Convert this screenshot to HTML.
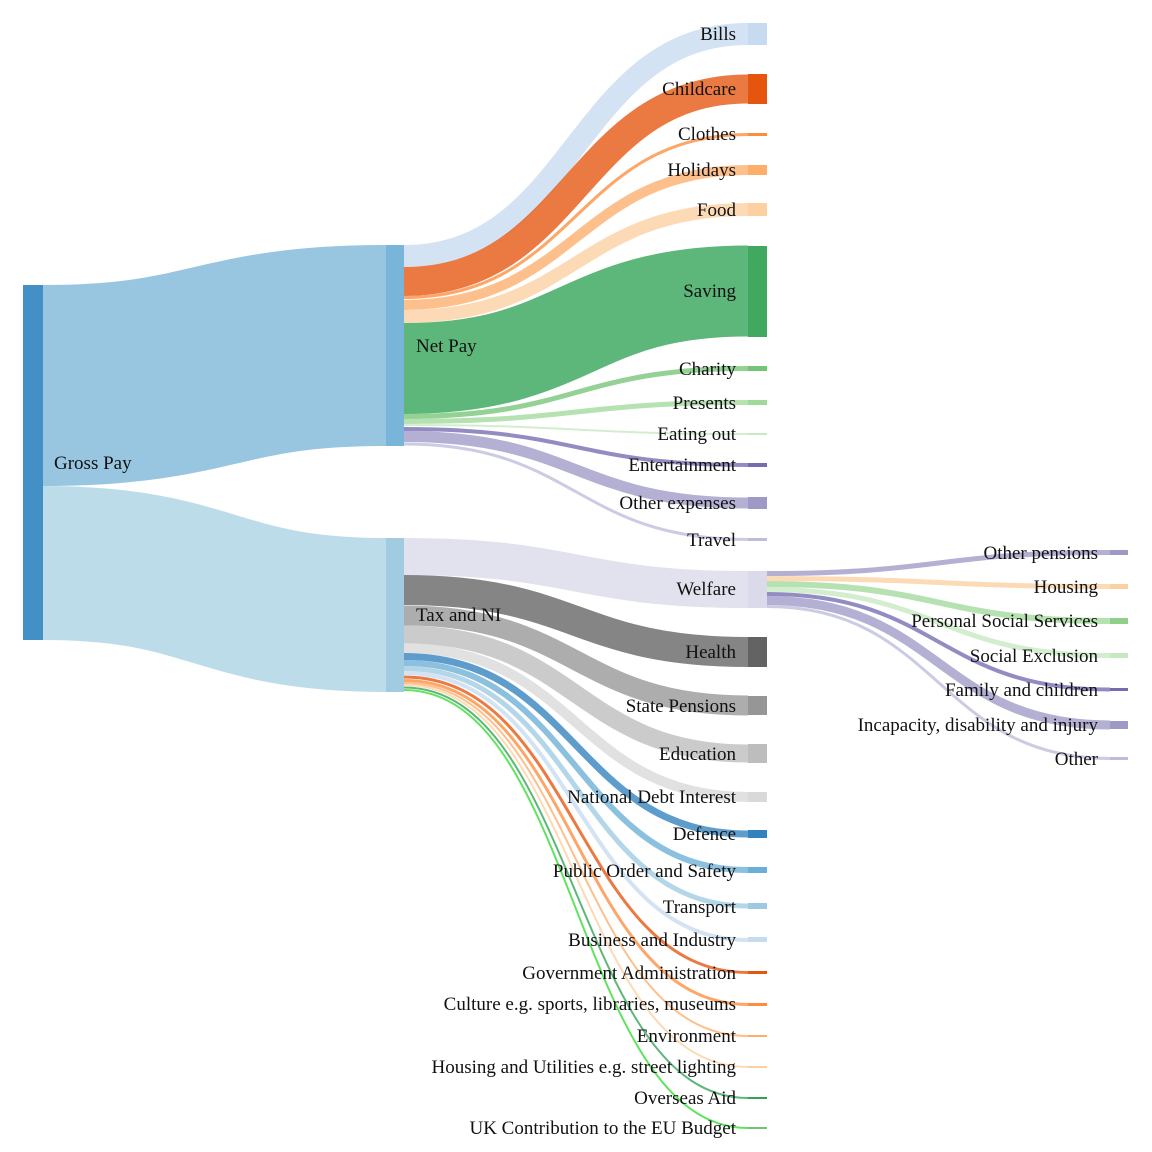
<!DOCTYPE html>
<html><head><meta charset="utf-8"><style>
html,body{margin:0;padding:0;background:#fff;}
svg{display:block;}
text{font-family:"Liberation Serif",serif;font-size:19px;fill:#111;}
.r{text-anchor:end;}
path{fill:none;stroke-opacity:0.78;}
</style></head><body>
<svg width="1152" height="1152" viewBox="0 0 1152 1152">
<g>
<path d="M43 385.5C214.5 385.5 214.5 345.5 386 345.5" stroke="#98c6e1" stroke-width="201" style="stroke-opacity:1"/>
<path d="M43 563C214.5 563 214.5 615 386 615" stroke="#bcdcea" stroke-width="154" style="stroke-opacity:1"/>

<path d="M404 256C576 256 576 34 748 34" stroke="#c6dbef" stroke-width="22"/>
<path d="M404 281.5C576 281.5 576 89 748 89" stroke="#e6550d" stroke-width="29"/>
<path d="M404 297.5C576 297.5 576 134.5 748 134.5" stroke="#fd8d3c" stroke-width="3"/>
<path d="M404 305C576 305 576 170 748 170" stroke="#fdae6b" stroke-width="10"/>
<path d="M404 316.5C576 316.5 576 209.5 748 209.5" stroke="#fdd0a2" stroke-width="13"/>
<path d="M404 368.5C576 368.5 576 291 748 291" stroke="#31a354" stroke-width="91"/>
<path d="M404 416.5C576 416.5 576 368.5 748 368.5" stroke="#74c476" stroke-width="5"/>
<path d="M404 421.5C576 421.5 576 402.5 748 402.5" stroke="#a1d99b" stroke-width="5"/>
<path d="M404 425C576 425 576 434 748 434" stroke="#c7e9c0" stroke-width="2"/>
<path d="M404 429C576 429 576 465 748 465" stroke="#756bb1" stroke-width="4"/>
<path d="M404 436.5C576 436.5 576 503 748 503" stroke="#9e9ac8" stroke-width="11"/>
<path d="M404 444C576 444 576 539.5 748 539.5" stroke="#bcbddc" stroke-width="3"/>

<path d="M404 556.5C576 556.5 576 589.5 748 589.5" stroke="#dadaeb" stroke-width="37"/>
<path d="M404 590C576 590 576 652 748 652" stroke="#636363" stroke-width="30"/>
<path d="M404 615.5C576 615.5 576 705.5 748 705.5" stroke="#969696" stroke-width="20"/>
<path d="M404 634.5C576 634.5 576 753.5 748 753.5" stroke="#bdbdbd" stroke-width="18"/>
<path d="M404 648C576 648 576 797 748 797" stroke="#d9d9d9" stroke-width="10"/>
<path d="M404 656.5C576 656.5 576 834 748 834" stroke="#3182bd" stroke-width="7"/>
<path d="M404 663C576 663 576 870 748 870" stroke="#6baed6" stroke-width="6"/>
<path d="M404 668.5C576 668.5 576 906 748 906" stroke="#9ecae1" stroke-width="5"/>
<path d="M404 673C576 673 576 940 748 940" stroke="#c6dbef" stroke-width="4"/>
<path d="M404 677C576 677 576 972.5 748 972.5" stroke="#e6550d" stroke-width="3"/>
<path d="M404 680.5C576 680.5 576 1004.5 748 1004.5" stroke="#fd8d3c" stroke-width="3"/>
<path d="M404 683C576 683 576 1036 748 1036" stroke="#fdae6b" stroke-width="2"/>
<path d="M404 685C576 685 576 1067 748 1067" stroke="#fdd0a2" stroke-width="2"/>
<path d="M404 687.5C576 687.5 576 1098 748 1098" stroke="#31a354" stroke-width="2"/>
<path d="M404 690C576 690 576 1128 748 1128" stroke="#33dd33" stroke-width="2"/>

<path d="M767 573.5C938.5 573.5 938.5 552.5 1110 552.5" stroke="#9e9ac8" stroke-width="5"/>
<path d="M767 578.5C938.5 578.5 938.5 586.5 1110 586.5" stroke="#fdd0a2" stroke-width="5"/>
<path d="M767 584C938.5 584 938.5 621 1110 621" stroke="#a1d99b" stroke-width="6"/>
<path d="M767 589.5C938.5 589.5 938.5 655.5 1110 655.5" stroke="#c7e9c0" stroke-width="5"/>
<path d="M767 594C938.5 594 938.5 689.5 1110 689.5" stroke="#756bb1" stroke-width="4"/>
<path d="M767 600.5C938.5 600.5 938.5 725 1110 725" stroke="#9e9ac8" stroke-width="9"/>
<path d="M767 606.5C938.5 606.5 938.5 758.5 1110 758.5" stroke="#bcbddc" stroke-width="3"/>
</g>
<g>
<rect x="23" y="285" width="20" height="355" fill="#4390c6"/>
<rect x="386" y="245" width="18" height="201" fill="#78b5d8"/>
<rect x="386" y="538" width="18" height="154" fill="#a1cbe0"/>
<rect x="748" y="23" width="19" height="22" fill="#c6dbef"/>
<rect x="748" y="74" width="19" height="30" fill="#e6550d"/>
<rect x="748" y="133" width="19" height="3" fill="#fd8d3c"/>
<rect x="748" y="165" width="19" height="10" fill="#fdae6b"/>
<rect x="748" y="203" width="19" height="13" fill="#fdd0a2"/>
<rect x="748" y="246" width="19" height="91" fill="#41a85f"/>
<rect x="748" y="366" width="19" height="5" fill="#74c476"/>
<rect x="748" y="400" width="19" height="5" fill="#a1d99b"/>
<rect x="748" y="433" width="19" height="2" fill="#c7e9c0"/>
<rect x="748" y="463" width="19" height="4" fill="#756bb1"/>
<rect x="748" y="497" width="19" height="12" fill="#9e9ac8"/>
<rect x="748" y="538" width="19" height="3" fill="#bcbddc"/>
<rect x="748" y="571" width="19" height="37" fill="#dadaeb"/>
<rect x="748" y="637" width="19" height="30" fill="#636363"/>
<rect x="748" y="696" width="19" height="19" fill="#969696"/>
<rect x="748" y="744" width="19" height="19" fill="#bdbdbd"/>
<rect x="748" y="792" width="19" height="10" fill="#d9d9d9"/>
<rect x="748" y="830" width="19" height="8" fill="#3182bd"/>
<rect x="748" y="867" width="19" height="6" fill="#6baed6"/>
<rect x="748" y="903" width="19" height="6" fill="#9ecae1"/>
<rect x="748" y="937" width="19" height="5" fill="#c6dbef"/>
<rect x="748" y="971" width="19" height="3" fill="#e6550d"/>
<rect x="748" y="1003" width="19" height="3" fill="#fd8d3c"/>
<rect x="748" y="1035" width="19" height="2" fill="#fdae6b"/>
<rect x="748" y="1066" width="19" height="2" fill="#fdd0a2"/>
<rect x="748" y="1097" width="19" height="2" fill="#31a354"/>
<rect x="748" y="1127" width="19" height="2" fill="#74c476"/>
<rect x="1110" y="550" width="18" height="5" fill="#9e9ac8"/>
<rect x="1110" y="584" width="18" height="5" fill="#fdd0a2"/>
<rect x="1110" y="618" width="18" height="6" fill="#8fcf8a"/>
<rect x="1110" y="653" width="18" height="5" fill="#c7e9c0"/>
<rect x="1110" y="688" width="18" height="3" fill="#756bb1"/>
<rect x="1110" y="721" width="18" height="8" fill="#9e9ac8"/>
<rect x="1110" y="757" width="18" height="3" fill="#bcbddc"/>
</g>
<g>
<text x="54" y="469">Gross Pay</text>
<text x="416" y="352">Net Pay</text>
<text x="416" y="621">Tax and NI</text>
<text class="r" x="736" y="40">Bills</text>
<text class="r" x="736" y="95">Childcare</text>
<text class="r" x="736" y="140">Clothes</text>
<text class="r" x="736" y="176">Holidays</text>
<text class="r" x="736" y="216">Food</text>
<text class="r" x="736" y="297">Saving</text>
<text class="r" x="736" y="375">Charity</text>
<text class="r" x="736" y="409">Presents</text>
<text class="r" x="736" y="440">Eating out</text>
<text class="r" x="736" y="471">Entertainment</text>
<text class="r" x="736" y="509">Other expenses</text>
<text class="r" x="736" y="546">Travel</text>
<text class="r" x="736" y="595">Welfare</text>
<text class="r" x="736" y="658">Health</text>
<text class="r" x="736" y="712">State Pensions</text>
<text class="r" x="736" y="760">Education</text>
<text class="r" x="736" y="803">National Debt Interest</text>
<text class="r" x="736" y="840">Defence</text>
<text class="r" x="736" y="877">Public Order and Safety</text>
<text class="r" x="736" y="913">Transport</text>
<text class="r" x="736" y="946">Business and Industry</text>
<text class="r" x="736" y="979">Government Administration</text>
<text class="r" x="736" y="1010">Culture e.g. sports, libraries, museums</text>
<text class="r" x="736" y="1042">Environment</text>
<text class="r" x="736" y="1073">Housing and Utilities e.g. street lighting</text>
<text class="r" x="736" y="1104">Overseas Aid</text>
<text class="r" x="736" y="1134">UK Contribution to the EU Budget</text>
<text class="r" x="1098" y="559">Other pensions</text>
<text class="r" x="1098" y="593">Housing</text>
<text class="r" x="1098" y="627">Personal Social Services</text>
<text class="r" x="1098" y="662">Social Exclusion</text>
<text class="r" x="1098" y="696">Family and children</text>
<text class="r" x="1098" y="731">Incapacity, disability and injury</text>
<text class="r" x="1098" y="765">Other</text>
</g>
</svg>
</body></html>
